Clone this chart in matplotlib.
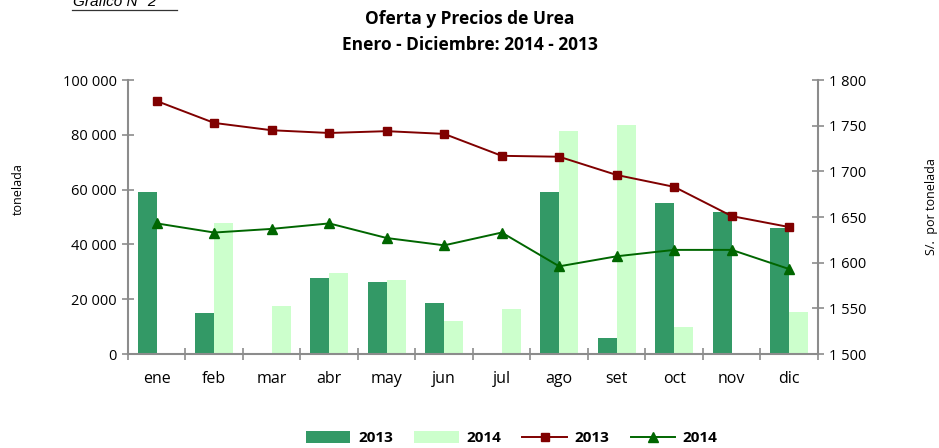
import numpy as np
import matplotlib
matplotlib.use("Agg")
import matplotlib.pyplot as plt
from matplotlib.ticker import FuncFormatter

plt.rcParams['font.family'] = ['Open Sans', 'DejaVu Sans']

meses = ['ene', 'feb', 'mar', 'abr', 'may', 'jun', 'jul', 'ago', 'set', 'oct', 'nov', 'dic']
oferta_2013 = [59000, 15000, 0, 27800, 26300, 18600, 0, 59100, 5800, 55100, 51800, 46000]
oferta_2014 = [0, 47800, 17500, 29700, 27000, 12000, 16400, 81400, 83600, 9900, 0, 15300]
precio_2013 = [1777, 1753, 1745, 1742, 1744, 1741, 1717, 1716, 1696, 1683, 1651, 1639]
precio_2014 = [1643, 1633, 1637, 1643, 1627, 1619, 1633, 1596, 1607, 1614, 1614, 1593]

verde_osc = '#339966'
verde_cla = '#ccffcc'
rojo = '#800000'
verde_lin = '#006600'
gris = '#8c8c8c'

fig = plt.figure(figsize=(9.39, 4.48), dpi=100)
ax = fig.add_axes([0.1363, 0.2098, 0.7348, 0.6116])
ax2 = ax.twinx()

x = np.arange(len(meses))
w = 0.33
b1 = ax.bar(x - w / 2, oferta_2013, w, color=verde_osc, label='2013', zorder=2)
b2 = ax.bar(x + w / 2, oferta_2014, w, color=verde_cla, label='2014', zorder=2)

l1, = ax2.plot(x, precio_2013, color=rojo, marker='s', markersize=6, lw=1.4, label='2013')
l2, = ax2.plot(x, precio_2014, color=verde_lin, marker='^', markersize=7, lw=1.4, label='2014')

ax.set_xlim(-0.5, len(meses) - 0.5)
ax.set_ylim(0, 100000)
ax2.set_ylim(1500, 1800)
ax.set_yticks(np.arange(0, 100001, 20000))
ax2.set_yticks(np.arange(1500, 1801, 50))

miles = FuncFormatter(lambda v, p: f'{int(v):,}'.replace(',', ' '))
ax.yaxis.set_major_formatter(miles)
ax2.yaxis.set_major_formatter(miles)

# category separators as major ticks, month names on minor ticks
ax.set_xticks(np.arange(-0.5, len(meses), 1.0))
ax.set_xticklabels([])
ax.set_xticks(x, minor=True)
ax.set_xticklabels(meses, minor=True, fontsize=11.5)
ax.tick_params(axis='x', which='minor', length=0, pad=12)
ax.tick_params(axis='x', which='major', direction='inout', length=8, color=gris, width=1.2)
ax.tick_params(axis='y', direction='inout', length=8, color=gris, width=1.2, labelsize=10.5, pad=4)
ax2.tick_params(axis='y', direction='inout', length=8, color=gris, width=1.2, labelsize=10.5, pad=4)

for a in (ax, ax2):
    for s in a.spines.values():
        s.set_visible(False)
ax.spines['left'].set_visible(True)
ax.spines['bottom'].set_visible(True)
ax2.spines['right'].set_visible(True)
for s in (ax.spines['left'], ax.spines['bottom'], ax2.spines['right']):
    s.set_color(gris)
    s.set_linewidth(1.5)

fig.text(0.019, 0.578, 'tonelada', rotation=90, ha='center', va='center', fontsize=9)
fig.text(0.992, 0.54, 'S/.  por tonelada', rotation=90, ha='center', va='center', fontsize=9)

fig.text(0.50, 0.957, 'Oferta y Precios de Urea', ha='center', va='center',
         fontsize=12.5, fontweight='bold')
fig.text(0.50, 0.899, 'Enero - Diciembre: 2014 - 2013', ha='center', va='center',
         fontsize=12.5, fontweight='bold')
fig.text(0.078, 0.995, 'Gráfico N° 2', ha='left', va='center', fontsize=11,
         style='italic', family=['Liberation Sans', 'DejaVu Sans'])
fig.add_artist(plt.Line2D([0.077, 0.189], [0.978, 0.978], color='#333333', lw=0.9))

fig.legend([b1, b2, l1, l2], ['2013', '2014', '2013', '2014'], loc='center',
           bbox_to_anchor=(0.545, 0.022), ncol=4, frameon=False,
           prop={'weight': 'bold', 'size': 11}, handlelength=2.9,
           handleheight=0.8, columnspacing=1.4, handletextpad=0.5)

fig.savefig('out.png', dpi=100)
